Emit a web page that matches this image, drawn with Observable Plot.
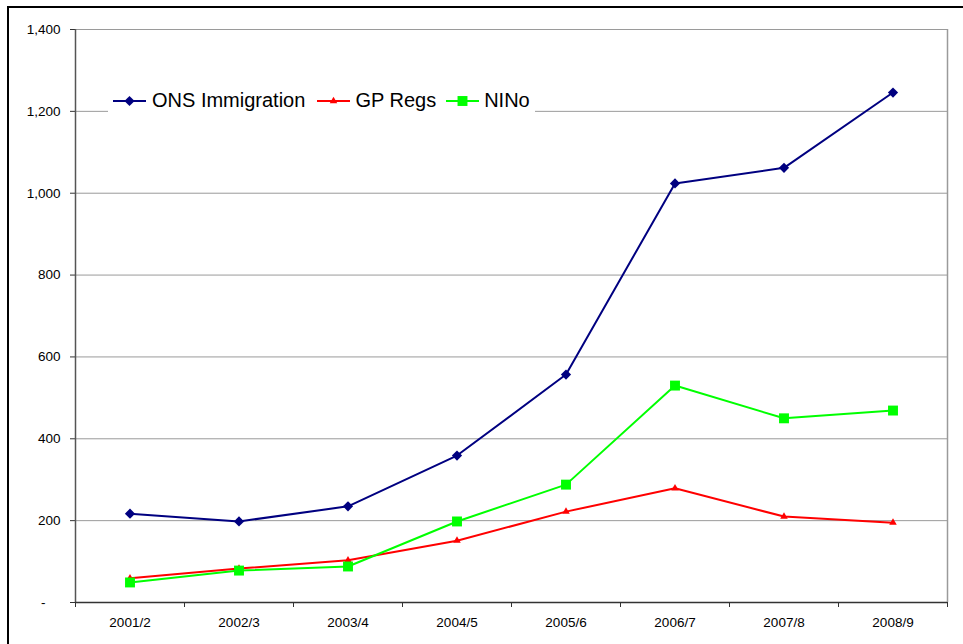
<!DOCTYPE html>
<html><head><meta charset="utf-8">
<script src="https://cdn.jsdelivr.net/npm/d3@7"></script>
<script src="https://cdn.jsdelivr.net/npm/@observablehq/plot@0.6"></script>
<style>
body{margin:0;background:#fff;}
#wrap{position:relative;width:963px;height:644px;overflow:hidden;font-family:"Liberation Sans",Arial,sans-serif;}
#border{position:absolute;left:7px;top:6px;width:1000px;height:1000px;border:2px solid #000;}
#legend{position:absolute;left:108px;top:88px;height:25px;background:#fff;display:flex;align-items:center;font-size:20px;color:#000;}
#legend .item{display:flex;align-items:center;}
#legend svg{display:block;}
</style></head><body><div id="wrap"><div id="border"></div></div>
<script>
const years = ["2001/2","2002/3","2003/4","2004/5","2005/6","2006/7","2007/8","2008/9"];
const ons  = [217, 198, 235, 359, 557, 1024, 1062, 1246];
const gp   = [59, 83, 103, 151, 222, 279, 210, 195];
const nino = [49, 78, 88, 198, 288, 530, 450, 469];
const yTicks = [0, 200, 400, 600, 800, 1000, 1200, 1400];
const seriesNames = ["ONS Immigration", "GP Regs", "NINo"];
const seriesColors = ["#000080", "#ff0000", "#00ff00"];
const seriesSymbols = ["diamond2", "triangle", "square"];
const seriesR = [4.6, 2.8, 5.6];
const seriesValues = [ons, gp, nino];

const data = seriesValues.flatMap((vals, s) => vals.map((v, i) => ({s, i: i + 0.5, year: years[i], value: v})));

const marks = [
  Plot.gridY(yTicks.filter(d => d > 0), {stroke: "#9a9a9a", strokeOpacity: 1, strokeWidth: 1}),
  Plot.ruleX([years.length], {stroke: "#9a9a9a", strokeWidth: 1.5}),
  Plot.axisY({ticks: yTicks, tickSize: 5, tickPadding: 10, stroke: "#333", fill: "#000",
    tickFormat: d => d === 0 ? "-\u2007\u2007" : d3.format(",")(d), label: null}),
  Plot.axisX({ticks: d3.range(years.length + 1), tickSize: 5, tickFormat: () => "", stroke: "#333", label: null}),
  Plot.axisX({ticks: years.map((_, i) => i + 0.5), tickSize: 0, tickPadding: 15, fill: "#000",
    tickFormat: d => years[Math.round(d - 0.5)], label: null}),
  Plot.ruleX([0], {stroke: "#555", strokeWidth: 1.5}),
  Plot.ruleY([0], {stroke: "#333", strokeWidth: 1.5})
];
seriesNames.forEach((n, s) => {
  marks.push(Plot.line(data.filter(d => d.s === s), {x: "i", y: "value", stroke: seriesColors[s], strokeWidth: 2}));
});
seriesNames.forEach((n, s) => {
  marks.push(Plot.dot(data.filter(d => d.s === s), {x: "i", y: "value", fill: seriesColors[s], stroke: "none", symbol: seriesSymbols[s], r: seriesR[s]}));
});

const chart = Plot.plot({
  width: 963, height: 644,
  marginLeft: 75, marginTop: 29, marginRight: 16, marginBottom: 42,
  x: {type: "linear", domain: [0, years.length]},
  y: {domain: [0, 1400]},
  style: {fontFamily: '"Liberation Sans", Arial, sans-serif', fontSize: "13.5px", background: "transparent", color: "#000"},
  marks
});
const wrap = document.getElementById("wrap");
wrap.insertBefore(chart, wrap.firstChild);

// legend
const legend = document.createElement("div");
legend.id = "legend";
const gaps = [[5, 6, 12], [0, 5, 10], [0, 5, 5]];
seriesNames.forEach((n, s) => {
  const item = document.createElement("div");
  item.className = "item";
  item.style.marginLeft = gaps[s][0] + "px";
  const sym = d3.symbol(Plot.symbol ? d3.symbolDiamond2 : d3.symbolDiamond2);
  const symType = [d3.symbolDiamond2, d3.symbolTriangle, d3.symbolSquare][s];
  const size = Math.PI * seriesR[s] * seriesR[s];
  const svg = d3.create("svg").attr("width", 33).attr("height", 14);
  svg.append("line").attr("x1", 0).attr("x2", 33).attr("y1", 7).attr("y2", 7).attr("stroke", seriesColors[s]).attr("stroke-width", 2);
  svg.append("path").attr("transform", "translate(16.5,7)").attr("d", d3.symbol(symType, size)()).attr("fill", seriesColors[s]);
  item.appendChild(svg.node());
  const t = document.createElement("span");
  t.textContent = n;
  t.style.marginLeft = gaps[s][1] + "px";
  t.style.marginRight = gaps[s][2] + "px";
  item.appendChild(t);
  legend.appendChild(item);
});
wrap.appendChild(legend);
</script></body></html>
